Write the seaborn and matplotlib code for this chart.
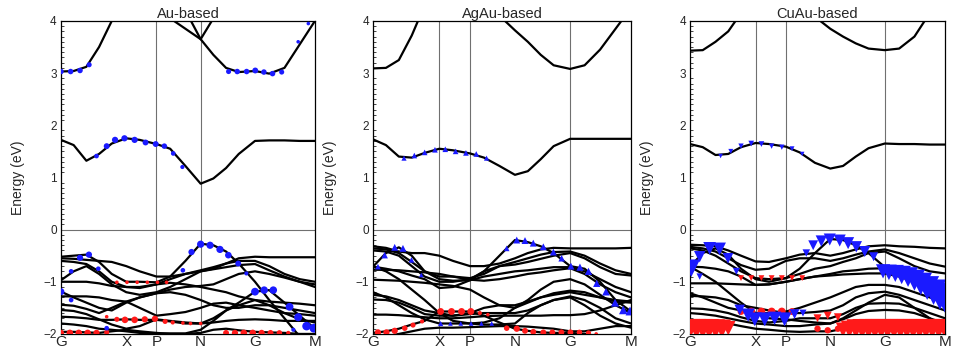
import numpy as np
import pandas as pd
import seaborn as sns
import matplotlib.pyplot as plt
from matplotlib.ticker import MultipleLocator

# k-path (fractional distance along the path) and labels
kpath = [0.0, 0.05, 0.1, 0.15, 0.2, 0.257, 0.31, 0.376, 0.43, 0.49,
         0.55, 0.6, 0.65, 0.7, 0.764, 0.82, 0.88, 0.94, 1.0]
sym_pos = [0.0, 0.257, 0.376, 0.55, 0.764, 1.0]
sym_lab = ["G", "X", "P", "N", "G", "M"]
titles = ["Au-based", "AgAu-based", "CuAu-based"]

# ---- Au-based bands (eV) ----
au_bands = [
    [1.72, 1.62, 1.32, 1.45, 1.65, 1.75, 1.72, 1.64, 1.55, 1.22, 0.88, 0.98, 1.18, 1.45, 1.70, 1.71, 1.71, 1.70, 1.70],
    [3.03, 3.04, 3.12, 3.5, 4.0, 4.5, 4.6, 4.6, 4.05, 3.85, 3.65, 3.35, 3.1, 3.02, 3.04, 2.99, 3.1, 3.55, 4.0],
    [4.6, 4.6, 4.6, 4.6, 4.6, 4.6, 4.6, 4.6, 4.6, 4.2, 3.65, 4.05, 4.5, 4.6, 4.6, 4.6, 4.6, 4.6, 4.6],
    [-0.52, -0.5, -0.48, -0.62, -0.85, -1.0, -1.0, -1.01, -0.9, -0.6, -0.27, -0.3, -0.42, -0.65, -1.0, -1.35, -1.7, -2.05, -2.3],
    [-0.55, -0.56, -0.58, -0.6, -0.62, -0.7, -0.8, -0.9, -0.9, -0.85, -0.8, -0.75, -0.65, -0.55, -0.52, -0.53, -0.53, -0.53, -0.53],
    [-0.6, -0.62, -0.66, -0.8, -1.0, -1.1, -1.12, -1.05, -0.95, -0.85, -0.78, -0.72, -0.65, -0.6, -0.6, -0.7, -0.85, -0.95, -1.0],
    [-0.97, -0.8, -0.7, -0.85, -1.05, -1.2, -1.25, -1.2, -1.1, -0.95, -0.8, -0.76, -0.72, -0.68, -0.66, -0.78, -0.9, -1.0, -1.05],
    [-1.0, -1.0, -1.0, -1.03, -1.08, -1.1, -1.1, -1.05, -1.02, -1.05, -1.1, -1.15, -1.2, -1.28, -1.35, -1.38, -1.4, -1.42, -1.45],
    [-1.19, -1.3, -1.4, -1.5, -1.55, -1.4, -1.3, -1.22, -1.15, -1.1, -1.08, -1.05, -0.95, -0.85, -0.8, -0.85, -0.92, -1.0, -1.1],
    [-1.28, -1.28, -1.28, -1.3, -1.35, -1.38, -1.3, -1.22, -1.2, -1.25, -1.35, -1.45, -1.5, -1.5, -1.45, -1.45, -1.5, -1.55, -1.6],
    [-1.44, -1.46, -1.52, -1.6, -1.5, -1.38, -1.5, -1.65, -1.62, -1.58, -1.5, -1.42, -1.4, -1.45, -1.5, -1.55, -1.6, -1.62, -1.65],
    [-1.54, -1.56, -1.62, -1.72, -1.82, -1.9, -1.85, -1.72, -1.75, -1.78, -1.8, -1.7, -1.55, -1.45, -1.35, -1.45, -1.6, -1.72, -1.78],
    [-1.67, -1.68, -1.7, -1.73, -1.73, -1.72, -1.73, -1.73, -1.76, -1.8, -1.8, -1.78, -1.75, -1.73, -1.72, -1.73, -1.75, -1.75, -1.75],
    [-1.8, -1.82, -1.85, -1.9, -1.92, -1.95, -1.98, -1.99, -1.99, -1.99, -1.92, -1.75, -1.55, -1.4, -1.19, -1.16, -1.4, -1.65, -1.9],
    [-1.96, -1.96, -1.97, -1.98, -1.95, -1.92, -1.95, -1.98, -2.0, -2.0, -1.98, -1.92, -1.9, -1.93, -1.96, -1.97, -1.98, -2.0, -2.0],
]

# ---- AgAu-based bands (eV) ----
agau_bands = [
    [1.73, 1.62, 1.4, 1.38, 1.47, 1.55, 1.52, 1.46, 1.38, 1.22, 1.05, 1.12, 1.35, 1.6, 1.74, 1.74, 1.74, 1.74, 1.74],
    [3.09, 3.1, 3.25, 3.72, 4.3, 4.6, 4.7, 4.7, 4.5, 4.1, 3.82, 3.6, 3.35, 3.15, 3.08, 3.15, 3.45, 3.85, 4.25],
    [-0.71, -0.45, -0.34, -0.5, -0.8, -0.95, -0.98, -0.97, -0.8, -0.5, -0.2, -0.24, -0.32, -0.45, -0.7, -0.75, -1.0, -1.35, -1.57],
    [-0.32, -0.35, -0.42, -0.45, -0.45, -0.5, -0.6, -0.7, -0.7, -0.65, -0.55, -0.45, -0.38, -0.35, -0.36, -0.36, -0.36, -0.36, -0.35],
    [-0.36, -0.38, -0.45, -0.62, -0.8, -0.9, -0.9, -0.93, -0.85, -0.7, -0.62, -0.55, -0.48, -0.43, -0.42, -0.5, -0.65, -0.78, -0.85],
    [-0.4, -0.42, -0.5, -0.7, -0.9, -1.0, -1.0, -0.95, -0.8, -0.7, -0.67, -0.62, -0.56, -0.5, -0.45, -0.55, -0.72, -0.85, -0.88],
    [-0.71, -0.75, -0.8, -0.88, -0.95, -1.12, -1.1, -0.97, -0.9, -0.85, -0.8, -0.78, -0.75, -0.72, -0.72, -0.8, -0.95, -1.1, -1.2],
    [-0.77, -0.77, -0.78, -0.8, -0.82, -0.85, -0.9, -0.96, -0.98, -0.95, -0.9, -0.85, -0.82, -0.78, -0.74, -0.85, -1.05, -1.2, -1.3],
    [-0.96, -0.97, -0.98, -1.0, -1.02, -1.05, -1.08, -1.15, -1.3, -1.45, -1.5, -1.35, -1.15, -1.0, -0.95, -1.05, -1.25, -1.45, -1.6],
    [-1.2, -1.3, -1.45, -1.6, -1.72, -1.8, -1.8, -1.8, -1.78, -1.7, -1.5, -1.4, -1.3, -1.22, -1.17, -1.2, -1.3, -1.38, -1.4],
    [-1.25, -1.28, -1.35, -1.45, -1.55, -1.6, -1.65, -1.6, -1.5, -1.45, -1.45, -1.38, -1.3, -1.25, -1.2, -1.25, -1.3, -1.35, -1.38],
    [-1.34, -1.35, -1.4, -1.5, -1.62, -1.65, -1.65, -1.62, -1.6, -1.6, -1.6, -1.55, -1.45, -1.35, -1.28, -1.35, -1.5, -1.7, -1.8],
    [-1.63, -1.63, -1.64, -1.66, -1.68, -1.7, -1.7, -1.68, -1.66, -1.65, -1.65, -1.65, -1.65, -1.64, -1.64, -1.62, -1.55, -1.45, -1.35],
    [-1.98, -1.95, -1.9, -1.82, -1.75, -1.57, -1.57, -1.57, -1.65, -1.78, -1.9, -1.94, -1.97, -1.98, -1.98, -2.0, -2.05, -2.1, -2.1],
    [-0.71, -0.8, -0.95, -1.15, -1.35, -1.6, -1.75, -1.8, -1.82, -1.82, -1.8, -1.6, -1.45, -1.35, -1.3, -1.45, -1.65, -1.8, -1.88],
    [-2.1, -2.05, -2.0, -1.95, -1.9, -1.88, -1.88, -1.87, -1.86, -1.85, -1.85, -1.86, -1.88, -1.9, -1.95, -1.95, -1.9, -1.85, -1.85],
]

# ---- CuAu-based bands (eV) ----
cuau_bands = [
    [1.64, 1.58, 1.43, 1.45, 1.58, 1.66, 1.64, 1.59, 1.48, 1.28, 1.17, 1.22, 1.4, 1.56, 1.65, 1.64, 1.64, 1.63, 1.63],
    [3.43, 3.44, 3.6, 3.8, 4.15, 4.5, 4.6, 4.6, 4.4, 4.08, 3.85, 3.7, 3.57, 3.47, 3.44, 3.47, 3.7, 4.15, 4.5],
    [-0.71, -0.45, -0.36, -0.48, -0.75, -0.95, -1.0, -0.93, -0.75, -0.45, -0.18, -0.2, -0.3, -0.45, -0.72, -0.8, -0.95, -1.2, -1.45],
    [-0.29, -0.3, -0.32, -0.4, -0.5, -0.61, -0.62, -0.55, -0.48, -0.45, -0.5, -0.45, -0.38, -0.32, -0.3, -0.32, -0.33, -0.35, -0.36],
    [-0.33, -0.36, -0.42, -0.55, -0.68, -0.77, -0.75, -0.6, -0.55, -0.55, -0.6, -0.55, -0.48, -0.42, -0.38, -0.45, -0.55, -0.65, -0.71],
    [-0.36, -0.4, -0.5, -0.65, -0.8, -0.93, -0.95, -0.93, -0.85, -0.75, -0.7, -0.62, -0.55, -0.45, -0.42, -0.55, -0.7, -0.8, -0.84],
    [-0.71, -0.72, -0.75, -0.8, -0.9, -1.06, -1.05, -1.0, -0.95, -0.9, -0.85, -0.8, -0.78, -0.75, -0.74, -0.8, -0.9, -1.0, -1.05],
    [-1.03, -1.03, -1.03, -1.04, -1.05, -1.06, -1.05, -1.0, -0.95, -0.9, -0.88, -0.86, -0.85, -0.84, -0.84, -0.9, -1.0, -1.12, -1.19],
    [-1.22, -1.3, -1.4, -1.5, -1.55, -1.6, -1.6, -1.57, -1.5, -1.4, -1.3, -1.2, -1.1, -1.06, -1.06, -1.1, -1.2, -1.3, -1.4],
    [-1.27, -1.28, -1.3, -1.35, -1.45, -1.5, -1.55, -1.6, -1.6, -1.58, -1.55, -1.45, -1.3, -1.22, -1.19, -1.25, -1.35, -1.45, -1.55],
    [-1.51, -1.52, -1.55, -1.6, -1.68, -1.75, -1.78, -1.75, -1.7, -1.7, -1.7, -1.62, -1.5, -1.42, -1.41, -1.42, -1.5, -1.6, -1.7],
    [-1.6, -1.62, -1.65, -1.7, -1.75, -1.8, -1.82, -1.85, -1.85, -1.82, -1.8, -1.72, -1.62, -1.56, -1.54, -1.55, -1.6, -1.7, -1.8],
    [-0.71, -0.85, -1.0, -1.2, -1.4, -1.6, -1.7, -1.72, -1.75, -1.78, -1.8, -1.7, -1.55, -1.4, -1.25, -1.3, -1.5, -1.7, -1.9],
    [-1.76, -1.76, -1.77, -1.8, -1.85, -1.9, -1.92, -1.95, -1.96, -1.95, -1.95, -1.9, -1.85, -1.82, -1.8, -1.8, -1.8, -1.8, -1.8],
]

# ---- orbital projections: k, energy, weight (0..1) ----
au_blue_k = [0.0, 0.038, 0.075, 0.111, 0.14, 0.18, 0.213, 0.25, 0.29, 0.333, 0.373, 0.407, 0.442, 0.478,
             0.66, 0.694, 0.731, 0.765, 0.799, 0.833, 0.869, 0.934, 0.974,
             0.0, 0.04, 0.04, 0.075, 0.11, 0.147, 0.18, 0.48, 0.514, 0.55, 0.587, 0.626, 0.659, 0.698, 0.73,
             0.764, 0.8, 0.836, 0.9, 0.934, 0.967, 0.996, 0.915]
au_blue_e = [3.03, 3.03, 3.05, 3.16, 1.41, 1.60, 1.72, 1.75, 1.72, 1.67, 1.64, 1.6, 1.46, 1.2,
             3.03, 3.03, 3.03, 3.05, 3.02, 2.99, 3.02, 3.6, 3.95,
             -1.19, -1.35, -0.8, -0.54, -0.48, -0.75, -1.89, -0.78, -0.43, -0.28, -0.3, -0.38, -0.49, -0.65, -0.84,
             -1.19, -1.16, -1.16, -1.48, -1.68, -1.85, -1.89, -1.92]
au_blue_w = [0.35, 0.35, 0.35, 0.3, 0.25, 0.4, 0.45, 0.45, 0.45, 0.4, 0.4, 0.35, 0.25, 0.2,
             0.3, 0.35, 0.35, 0.4, 0.35, 0.35, 0.3, 0.15, 0.15,
             0.55, 0.25, 0.25, 0.45, 0.45, 0.25, 0.25, 0.25, 0.45, 0.6, 0.6, 0.6, 0.5, 0.4, 0.2,
             0.7, 0.65, 0.65, 0.7, 0.75, 0.85, 0.9, 0.2]
au_red_k = [0.22, 0.26, 0.3, 0.34, 0.38, 0.416,
            0.18, 0.22, 0.252, 0.29, 0.33, 0.37, 0.41, 0.44, 0.48, 0.51, 0.55,
            0.0, 0.035, 0.07, 0.105, 0.14, 0.18,
            0.65, 0.685, 0.72, 0.755, 0.79, 0.825, 0.86, 0.895]
au_red_e = [-1.01, -1.01, -1.01, -1.01, -1.01, -1.01,
            -1.67, -1.72, -1.73, -1.73, -1.72, -1.71, -1.76, -1.78, -1.79, -1.8, -1.8,
            -1.98, -1.98, -1.98, -1.98, -1.98, -1.97,
            -1.98, -1.98, -1.98, -1.98, -1.98, -1.98, -1.98, -1.98]
au_red_w = [0.15, 0.15, 0.15, 0.15, 0.15, 0.15,
            0.15, 0.3, 0.5, 0.5, 0.45, 0.45, 0.3, 0.2, 0.15, 0.15, 0.15,
            0.45, 0.5, 0.5, 0.5, 0.45, 0.3,
            0.4, 0.45, 0.5, 0.5, 0.45, 0.4, 0.35, 0.2]

agau_blue_k = [0.12, 0.16, 0.2, 0.24, 0.28, 0.32, 0.36, 0.4, 0.44,
               0.019, 0.045, 0.084, 0.116, 0.149, 0.187,
               0.262, 0.3, 0.34, 0.38, 0.42, 0.46,
               0.518, 0.557, 0.589, 0.621, 0.66, 0.699, 0.731, 0.767, 0.802, 0.835, 0.867, 0.903, 0.938, 0.97, 0.996]
agau_blue_e = [1.37, 1.42, 1.48, 1.53, 1.54, 1.5, 1.47, 1.45, 1.37,
               -0.71, -0.49, -0.34, -0.36, -0.58, -0.87,
               -1.8, -1.8, -1.8, -1.8, -1.8, -1.8,
               -0.36, -0.2, -0.21, -0.26, -0.33, -0.43, -0.55, -0.7, -0.72, -0.8, -1.03, -1.19, -1.4, -1.54, -1.56]
agau_blue_w = [0.25, 0.3, 0.3, 0.3, 0.3, 0.3, 0.3, 0.3, 0.25,
               0.3, 0.4, 0.45, 0.45, 0.3, 0.2,
               0.25, 0.2, 0.2, 0.2, 0.2, 0.2,
               0.3, 0.45, 0.45, 0.45, 0.45, 0.45, 0.4, 0.45, 0.5, 0.5, 0.5, 0.55, 0.6, 0.7, 0.75]
agau_red_k = [0.019, 0.052, 0.084, 0.123, 0.155, 0.19,
              0.262, 0.304, 0.343, 0.379, 0.414, 0.445,
              0.518, 0.557, 0.589, 0.621, 0.66, 0.695, 0.73, 0.765, 0.8, 0.835, 0.865]
agau_red_e = [-1.97, -1.97, -1.94, -1.89, -1.83, -1.76,
              -1.57, -1.57, -1.57, -1.57, -1.6, -1.63,
              -1.89, -1.9, -1.94, -1.96, -1.97, -1.97, -1.97, -1.97, -1.97, -1.98, -2.0]
agau_red_w = [0.45, 0.45, 0.45, 0.35, 0.3, 0.2,
              0.55, 0.55, 0.55, 0.55, 0.2, 0.15,
              0.35, 0.45, 0.4, 0.4, 0.4, 0.4, 0.4, 0.4, 0.35, 0.3, 0.15]

cuau_blue_k = [0.12, 0.16, 0.2, 0.24, 0.28, 0.32, 0.36, 0.4, 0.44,
               0.005, 0.038, 0.077, 0.116, 0.149, 0.182, 0.038,
               0.195, 0.228, 0.254, 0.293, 0.332, 0.371, 0.41, 0.443,
               0.456, 0.483, 0.515, 0.548, 0.587, 0.62, 0.652, 0.685, 0.72,
               0.757, 0.78, 0.805, 0.83, 0.855, 0.88, 0.905, 0.93, 0.955, 0.98, 1.0]
cuau_blue_e = [1.41, 1.5, 1.6, 1.65, 1.64, 1.6, 1.58, 1.55, 1.45,
               -0.74, -0.52, -0.36, -0.37, -0.55, -0.8, -0.9,
               -1.54, -1.64, -1.72, -1.72, -1.7, -1.72, -1.62, -1.6,
               -0.45, -0.3, -0.22, -0.19, -0.21, -0.26, -0.33, -0.42, -0.52,
               -0.8, -0.82, -0.84, -0.87, -0.91, -0.97, -1.04, -1.12, -1.2, -1.28, -1.33]
cuau_blue_w = [0.025, 0.03, 0.035, 0.04, 0.04, 0.035, 0.035, 0.03, 0.025,
               0.38, 0.16, 0.2, 0.2, 0.14, 0.06, 0.05,
               0.14, 0.22, 0.24, 0.24, 0.22, 0.24, 0.12, 0.06,
               0.07, 0.12, 0.16, 0.18, 0.18, 0.18, 0.16, 0.15, 0.1,
               0.25, 0.3, 0.36, 0.42, 0.48, 0.55, 0.62, 0.7, 0.8, 0.9, 0.95]
cuau_red_k = [0.0, 0.025, 0.05, 0.075, 0.1, 0.125, 0.15,
              0.2, 0.24, 0.28, 0.32, 0.36, 0.4, 0.44,
              0.5, 0.54, 0.58,
              0.6, 0.625, 0.65, 0.675, 0.7, 0.725, 0.75, 0.775, 0.8, 0.825, 0.85,
              0.875, 0.9, 0.925, 0.95, 0.975, 1.0]
cuau_red_e = [-1.9, -1.9, -1.9, -1.9, -1.9, -1.9, -1.89,
              -0.93, -0.93, -0.93, -0.93, -0.93, -0.93, -0.93,
              -1.7, -1.65, -1.68,
              -1.92, -1.91, -1.9, -1.9, -1.9, -1.9, -1.9, -1.9, -1.9, -1.9, -1.9,
              -1.9, -1.9, -1.9, -1.9, -1.9, -1.9]
cuau_red_w = [0.9, 0.9, 0.9, 0.9, 0.85, 0.8, 0.5,
              0.08, 0.08, 0.08, 0.08, 0.08, 0.08, 0.08,
              0.15, 0.15, 0.15,
              0.5, 0.7, 0.85, 0.9, 0.9, 0.9, 0.9, 0.9, 0.9, 0.9, 0.9,
              0.9, 0.9, 0.9, 0.9, 0.9, 0.9]
cuau_redo_k = [0.2, 0.24, 0.28, 0.32, 0.36, 0.4, 0.5, 0.54, 0.58]
cuau_redo_e = [-1.57, -1.57, -1.57, -1.57, -1.57, -1.57, -1.9, -1.93, -1.9]
cuau_redo_w = [0.35, 0.45, 0.45, 0.45, 0.45, 0.35, 0.3, 0.3, 0.3]

sns.set_style("white")
plt.rcParams["font.family"] = ["Liberation Sans", "DejaVu Sans"]

fig = plt.figure(figsize=(9.57, 3.53), dpi=100)
ax_rects = [[0.0637, 0.054, 0.2654, 0.8867],
            [0.3898, 0.054, 0.2696, 0.8867],
            [0.7210, 0.054, 0.2665, 0.8867]]
vlines = [[0.376, 0.55], [0.257, 0.376, 0.764], [0.257, 0.376, 0.764]]

panels = [
    (au_bands, (au_blue_k, au_blue_e, au_blue_w, "o", 45),
     [(au_red_k, au_red_e, au_red_w, "o", 45)]),
    (agau_bands, (agau_blue_k, agau_blue_e, agau_blue_w, "^", 55),
     [(agau_red_k, agau_red_e, agau_red_w, "o", 45)]),
    (cuau_bands, (cuau_blue_k, cuau_blue_e, cuau_blue_w, "v", 420),
     [(cuau_red_k, cuau_red_e, cuau_red_w, "v", 220),
      (cuau_redo_k, cuau_redo_e, cuau_redo_w, "o", 70)]),
]

for i, (bands, blue, reds) in enumerate(panels):
    ax = fig.add_axes(ax_rects[i])
    rows = []
    for b, vals in enumerate(bands):
        for kk, e in zip(kpath, vals):
            rows.append({"band": b, "k": kk, "E": e})
    df = pd.DataFrame(rows)

    for v in vlines[i]:
        ax.axvline(v, color="#707070", lw=0.8, zorder=1)
    ax.axhline(0, color="#707070", lw=0.8, zorder=1)

    sns.lineplot(data=df, x="k", y="E", units="band", estimator=None, sort=False,
                 color="black", lw=1.6, ax=ax, zorder=2)

    for kk, ee, ww, mk, smax in reds:
        sns.scatterplot(x=kk, y=ee, size=ww, sizes=(0, smax), size_norm=(0, 1),
                        marker=mk, color="#ff1a1a", linewidth=0, legend=False, ax=ax, zorder=3)
    kk, ee, ww, mk, smax = blue
    sns.scatterplot(x=kk, y=ee, size=ww, sizes=(0, smax), size_norm=(0, 1),
                    marker=mk, color="#1a1aff", linewidth=0, legend=False, ax=ax, zorder=4)

    ax.set_xlim(0, 1)
    ax.set_ylim(-2, 4)
    ax.set_xticks(sym_pos)
    ax.set_xticklabels(sym_lab, fontsize=11)
    ax.tick_params(axis="x", length=0, pad=1)
    ax.set_yticks(range(-2, 5))
    ax.yaxis.set_minor_locator(MultipleLocator(0.1))
    ax.tick_params(axis="y", which="major", direction="in", length=4, width=0.8, labelsize=8.5, pad=3)
    ax.tick_params(axis="y", which="minor", direction="in", length=2, width=0.6, left=True)
    ax.set_xlabel("")
    ax.set_ylabel("Energy (eV)", fontsize=10, labelpad=13)
    ax.set_title(titles[i], fontsize=10.5, pad=2)
    for s in ax.spines.values():
        s.set_color("black")
        s.set_linewidth(0.9)

fig.savefig("out.png", dpi=100)
